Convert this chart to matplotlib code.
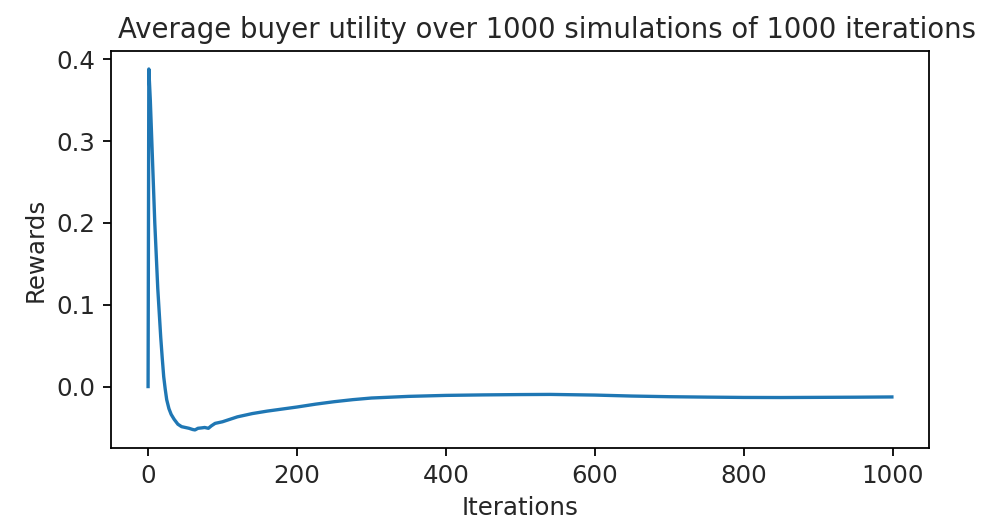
import matplotlib
matplotlib.use("Agg")
import matplotlib.pyplot as plt

iterations = [0, 1, 3, 5, 7, 9, 11, 13, 15, 17, 19, 21, 23, 25, 28, 31, 35, 40, 45,
              50, 55, 60, 63, 67, 72, 76, 81, 85, 90, 100, 110, 120, 140, 160, 180,
              200, 225, 250, 275, 300, 350, 400, 450, 500, 540, 600, 650, 700, 750,
              800, 850, 900, 950, 999]
rewards = [0.0, 0.388, 0.35, 0.30, 0.25, 0.20, 0.16, 0.12, 0.09, 0.06, 0.035, 0.012,
           -0.003, -0.016, -0.027, -0.034, -0.040, -0.046, -0.049,
           -0.050, -0.051, -0.0525, -0.053, -0.051, -0.0505, -0.050, -0.051, -0.048,
           -0.045, -0.043, -0.040, -0.037, -0.033, -0.030, -0.0275,
           -0.025, -0.0215, -0.0185, -0.016, -0.0140, -0.0120, -0.0108, -0.0102, -0.0098,
           -0.0096, -0.0104, -0.0116, -0.0124, -0.0129, -0.0133, -0.0134, -0.0132,
           -0.0130, -0.0127]

title = "Average buyer utility over 1000 simulations of 1000 iterations"

plt.rcParams["text.color"] = "#262626"
plt.rcParams["axes.labelcolor"] = "#262626"
plt.rcParams["xtick.labelcolor"] = "#262626"
plt.rcParams["ytick.labelcolor"] = "#262626"

dpi = 160
fig = plt.figure(figsize=(999 / dpi, 520 / dpi), dpi=dpi)
ax = fig.add_axes([0.111, 0.1385, 0.819, 0.7635])
ax.plot(iterations, rewards, color="#1f77b4", linewidth=1.5)
ax.set_title(title, fontsize=12.4, x=0.533)
ax.set_xlabel("Iterations", fontsize=11)
ax.set_ylabel("Rewards", fontsize=11)
ax.set_xticks([0, 200, 400, 600, 800, 1000])
ax.set_yticks([0.0, 0.1, 0.2, 0.3, 0.4])
ax.tick_params(labelsize=11)
fig.savefig("out.png", dpi=dpi)
